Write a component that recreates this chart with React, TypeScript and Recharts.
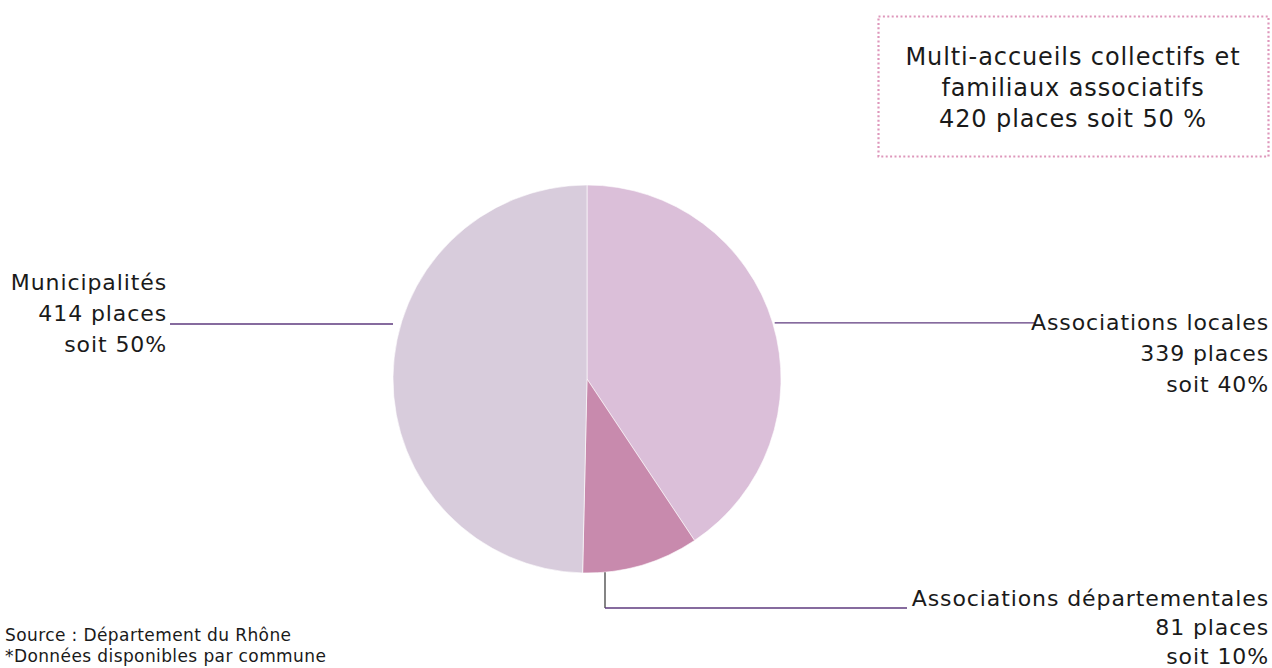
import React from "react";
import { PieChart, Pie, Cell } from "recharts";

const categories = ["Associations locales", "Associations départementales", "Municipalités"];
const places = [339, 81, 414];
const percents = [40, 10, 50];
const colors = ["#DBBFD9", "#C88AAD", "#D8CCDC"];

const boxLines = ["Multi-accueils collectifs et", "familiaux associatifs", "420 places soit 50 %"];
const sourceLines = ["Source : Département du Rhône", "*Données disponibles par commune"];

const data = categories.map((name, i) => ({ name, value: places[i], pct: percents[i] }));

const FONT = "'DejaVu Sans', sans-serif";
const TEXT = "#1a1a1a";
const LEADER = "#5E3A7E";
const RAD = Math.PI / 180;

const renderLabel = (props: any) => {
  const { cx, cy, outerRadius, midAngle, index } = props;
  const lines = [data[index].name, `${data[index].value} places`, `soit ${data[index].pct}%`];
  const textStyle = { fontFamily: FONT, fontSize: 22, fill: TEXT, letterSpacing: 0.9 } as any;
  if (index === 0) {
    const px = cx + outerRadius * Math.cos(-midAngle * RAD);
    const py = cy + outerRadius * Math.sin(-midAngle * RAD);
    return (
      <g key="lbl0">
        <line x1={px + 2} y1={py} x2={1036} y2={py} stroke={LEADER} strokeWidth={1.2} />
        {lines.map((t, k) => (
          <text key={k} x={1269} y={330 + k * 31} textAnchor="end" style={textStyle}>{t}</text>
        ))}
      </g>
    );
  }
  if (index === 1) {
    const lx = 605;
    const ly = cy + Math.sqrt(outerRadius * outerRadius - (lx - cx) * (lx - cx));
    return (
      <g key="lbl1">
        <line x1={lx} y1={ly} x2={lx} y2={608} stroke="#333" strokeWidth={1.2} />
        <line x1={lx} y1={608} x2={907} y2={608} stroke={LEADER} strokeWidth={1.4} />
        {lines.map((t, k) => (
          <text key={k} x={1269} y={606 + k * 29} textAnchor="end" style={textStyle}>{t}</text>
        ))}
      </g>
    );
  }
  return (
    <g key="lbl2">
      <line x1={170} y1={324} x2={cx - outerRadius} y2={324} stroke={LEADER} strokeWidth={1.4} />
      {lines.map((t, k) => (
        <text key={k} x={167} y={290 + k * 31} textAnchor="end" style={textStyle}>{t}</text>
      ))}
    </g>
  );
};

export default function App() {
  return (
    <div style={{ position: "absolute", left: 0, top: 0, width: 1272, height: 668, background: "#fff", overflow: "hidden" }}>
      <PieChart width={1272} height={668} margin={{ top: 0, right: 0, bottom: 0, left: 0 }}>
        <Pie
          data={data}
          dataKey="value"
          nameKey="name"
          cx={587}
          cy={379}
          outerRadius={194}
          startAngle={90}
          endAngle={-270}
          stroke="#ffffff"
          strokeWidth={0.6}
          label={renderLabel}
          labelLine={false}
          isAnimationActive={false}
        >
          {data.map((d, i) => (
            <Cell key={d.name} fill={colors[i]} />
          ))}
        </Pie>
      </PieChart>
      <svg width={1272} height={668} style={{ position: "absolute", left: 0, top: 0, pointerEvents: "none" }}>
        <rect x={878.5} y={16.5} width={390} height={140} fill="none" stroke="#DE97BB" strokeWidth={2.2} strokeDasharray="2 2.4" />
        {boxLines.map((t, k) => (
          <text key={k} x={1073} y={65 + k * 31} textAnchor="middle"
            style={{ fontFamily: FONT, fontSize: 24, fill: TEXT, letterSpacing: 0.9 } as any}>{t}</text>
        ))}
        {sourceLines.map((t, k) => (
          <text key={k} x={5} y={641 + k * 21}
            style={{ fontFamily: FONT, fontSize: 17, fill: TEXT, letterSpacing: 0.4 } as any}>{t}</text>
        ))}
      </svg>
    </div>
  );
}
